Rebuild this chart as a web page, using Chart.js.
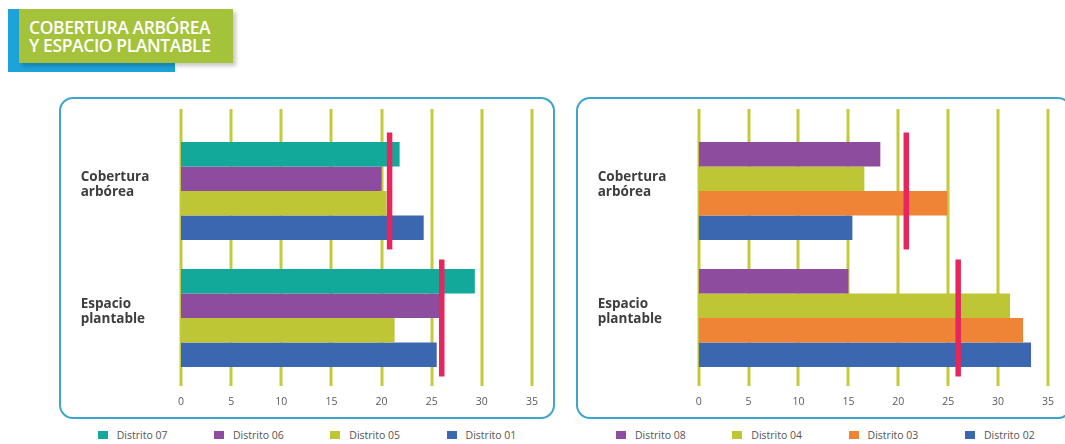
<!DOCTYPE html>
<html lang="es">
<head>
<meta charset="utf-8">
<title>Cobertura arbórea y espacio plantable</title>
<script src="https://cdn.jsdelivr.net/npm/chart.js@4.4.1/dist/chart.umd.min.js"></script>
<style>
  html, body { margin: 0; padding: 0; background: #fff; }
  body { position: relative; width: 1065px; height: 444px; overflow: hidden; font-family: "Open Sans", sans-serif; }
  .title-back { position: absolute; left: 8px; top: 9px; width: 167px; height: 63px; background: #1ea2da; }
  .title {
    position: absolute; left: 19px; top: 9px; width: 204px; height: 45px;
    padding: 9px 0 0 10px; background: #a5c23b; color: #fff;
    font-weight: 600; font-size: 17.5px; line-height: 18px; letter-spacing: -0.4px;
    box-shadow: 3px 3px 4px rgba(0, 0, 0, 0.22);
  }
  .panel { position: absolute; top: 97px; height: 318px; border: 2.5px solid #3ea4cb; border-radius: 14px; box-sizing: content-box; }
  .chart-box { position: absolute; top: 97px; height: 323px; }
  .legend { position: absolute; top: 428px; display: flex; font-size: 10.5px; color: #555; }
  .legend-item { width: 116.3px; display: flex; align-items: center; height: 14px; white-space: nowrap; }
  .legend-swatch { width: 10px; height: 8px; margin-right: 9px; flex: none; }
</style>
</head>
<body>
<div class="title-back"></div>
<div class="title">COBERTURA ARBÓREA<br>Y ESPACIO PLANTABLE</div>

<div class="panel" style="left:59px; width:492px;"></div>
<div class="panel" style="left:576px; width:492px;"></div>

<div class="chart-box" style="left:59px; width:497px;"><canvas id="chartA" width="497" height="323"></canvas></div>
<div class="chart-box" style="left:576px; width:492px;"><canvas id="chartB" width="492" height="323"></canvas></div>

<div class="legend" id="legendA" style="left:97.7px;"></div>
<div class="legend" id="legendB" style="left:616px;"></div>

<script>
// Categories and axis ticks
const categories = [['Cobertura', 'arbórea'], ['Espacio', 'plantable']];
const xTicks = [0, 5, 10, 15, 20, 25, 30, 35];

// City average for each indicator (red marker)
const promedio = [20.8, 26.0];

// Left panel districts
const distrito07 = [21.8, 29.3];
const distrito06 = [20.0, 25.9];
const distrito05 = [20.5, 21.3];
const distrito01 = [24.2, 25.5];

// Right panel districts
const distrito08 = [18.2, 15.0];
const distrito04 = [16.6, 31.2];
const distrito03 = [24.9, 32.5];
const distrito02 = [15.4, 33.3];

const COLORS = {
  teal: '#12a99a',
  purple: '#8e4c9e',
  olive: '#bec636',
  blue: '#3b66b0',
  orange: '#ef8436',
  red: '#e6265c',
  grid: '#c4ca3c'
};

// Vertical grid lines drawn at the x-scale ticks, reaching a little past the plot area
const gridPlugin = {
  id: 'tallGrid',
  beforeDatasetsDraw(chart) {
    const { ctx, chartArea, scales } = chart;
    ctx.save();
    ctx.strokeStyle = COLORS.grid;
    ctx.lineWidth = 3;
    scales.x.ticks.forEach(t => {
      const x = Math.round(scales.x.getPixelForValue(t.value));
      ctx.beginPath();
      ctx.moveTo(x, chartArea.top - 18.5);
      ctx.lineTo(x, chartArea.bottom + 4.5);
      ctx.stroke();
    });
    ctx.restore();
  }
};

function barSet(label, data, color) {
  return {
    type: 'bar', label, data,
    backgroundColor: color, borderWidth: 0,
    categoryPercentage: 0.772, barPercentage: 1, order: 0
  };
}

function averageSet() {
  return {
    type: 'line', label: 'Promedio', data: promedio, indexAxis: 'y',
    showLine: false, order: -1,
    pointStyle: 'line', rotation: 90, pointRadius: 58.5,
    pointBorderColor: COLORS.red, pointBorderWidth: 5.5,
    pointBackgroundColor: COLORS.red
  };
}

function makeChart(canvasId, legendId, series, yAxisWidth, rightPad) {
  const datasets = series.map(s => barSet(s[0], s[1], s[2]));
  datasets.push(averageSet());
  const chart = new Chart(document.getElementById(canvasId), {
    type: 'bar',
    data: { labels: categories, datasets },
    plugins: [gridPlugin],
    options: {
      indexAxis: 'y',
      responsive: false,
      animation: false,
      events: [],
      layout: { autoPadding: false, padding: { left: 21.7, right: rightPad, top: 30.5, bottom: 0 } },
      plugins: { legend: { display: false }, tooltip: { enabled: false } },
      scales: {
        x: {
          min: xTicks[0], max: xTicks[xTicks.length - 1],
          afterBuildTicks(scale) { scale.ticks = xTicks.map(v => ({ value: v })); },
          grid: { display: false, drawTicks: false },
          border: { display: false },
          ticks: { padding: 14, color: '#5a5a5a', font: { family: 'Open Sans', size: 10.5 } },
          afterFit(scale) { scale.height = 38.5; }
        },
        y: {
          grid: { display: false, drawTicks: false },
          border: { display: false },
          ticks: {
            crossAlign: 'far', labelOffset: -6, color: '#3d3d3d',
            font: { family: 'Open Sans', size: 13.5, weight: 'bold', lineHeight: 1.12 }
          },
          afterFit(scale) { scale.width = yAxisWidth; }
        }
      }
    }
  });

  // HTML legend built from the bar datasets
  const legend = document.getElementById(legendId);
  chart.data.datasets.filter(d => d.type === 'bar').forEach(d => {
    const item = document.createElement('div');
    item.className = 'legend-item';
    const sw = document.createElement('span');
    sw.className = 'legend-swatch';
    sw.style.background = d.backgroundColor;
    const tx = document.createElement('span');
    tx.textContent = d.label;
    item.appendChild(sw);
    item.appendChild(tx);
    legend.appendChild(item);
  });
  return chart;
}

makeChart('chartA', 'legendA', [
  ['Distrito 07', distrito07, COLORS.teal],
  ['Distrito 06', distrito06, COLORS.purple],
  ['Distrito 05', distrito05, COLORS.olive],
  ['Distrito 01', distrito01, COLORS.blue]
], 100.3, 24);

makeChart('chartB', 'legendB', [
  ['Distrito 08', distrito08, COLORS.purple],
  ['Distrito 04', distrito04, COLORS.olive],
  ['Distrito 03', distrito03, COLORS.orange],
  ['Distrito 02', distrito02, COLORS.blue]
], 101, 18);
</script>
</body>
</html>
